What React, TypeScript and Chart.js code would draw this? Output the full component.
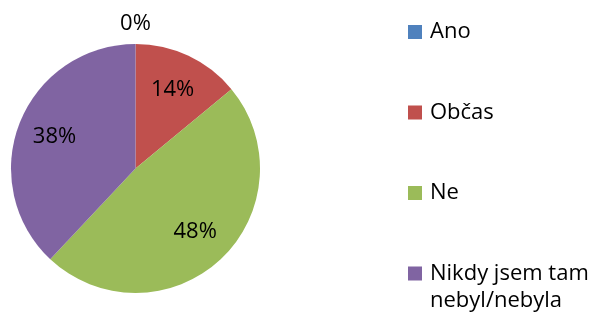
import React, { useEffect, useRef } from "react";
import { Chart, registerables } from "chart.js";

Chart.register(...registerables);

const categories = ["Ano", "Občas", "Ne", "Nikdy jsem tam nebyl/nebyla"];
const values = [0, 14, 48, 38];
const percentLabels = ["0%", "14%", "48%", "38%"];
const colors = ["#4F81BD", "#C0504D", "#9BBB59", "#8064A2"];

const FONT = '22px "Open Sans", sans-serif';

function wrapText(ctx: CanvasRenderingContext2D, text: string, maxW: number): string[] {
  const words = text.split(" ");
  const lines: string[] = [];
  let cur = "";
  for (const w of words) {
    const test = cur ? cur + " " + w : w;
    if (ctx.measureText(test).width > maxW && cur) {
      lines.push(cur);
      cur = w;
    } else {
      cur = test;
    }
  }
  if (cur) lines.push(cur);
  return lines;
}

const labelPlugin = {
  id: "sliceLabels",
  afterDatasetsDraw(chart: any) {
    const ctx: CanvasRenderingContext2D = chart.ctx;
    const meta = chart.getDatasetMeta(0);
    ctx.save();
    ctx.font = FONT;
    ctx.fillStyle = "#000";
    ctx.textAlign = "center";
    ctx.textBaseline = "middle";
    meta.data.forEach((arc: any, i: number) => {
      const p = arc.getProps(["x", "y", "startAngle", "endAngle", "outerRadius"], true);
      const mid = (p.startAngle + p.endAngle) / 2;
      const k = values[i] === 0 ? 1.16 : 0.7;
      const lx = p.x + Math.cos(mid) * p.outerRadius * k;
      const ly = p.y + Math.sin(mid) * p.outerRadius * k;
      ctx.fillText(percentLabels[i], lx, ly);
    });
    ctx.restore();
  },
};

const legendPlugin = {
  id: "sideLegend",
  afterDraw(chart: any) {
    const ctx: CanvasRenderingContext2D = chart.ctx;
    const boxX = 408;
    const textX = 430;
    const box = 14;
    const firstY = 32;
    const step = 80.5;
    const lineH = 27;
    ctx.save();
    ctx.font = FONT;
    ctx.textBaseline = "middle";
    ctx.textAlign = "left";
    categories.forEach((cat, i) => {
      const cy = firstY + i * step;
      ctx.fillStyle = colors[i];
      ctx.fillRect(boxX, cy - box / 2, box, box);
      ctx.fillStyle = "#000";
      const lines = wrapText(ctx, cat, chart.width - textX);
      lines.forEach((ln, j) => ctx.fillText(ln, textX, cy + j * lineH));
    });
    ctx.restore();
  },
};

export default function App() {
  const ref = useRef<HTMLCanvasElement | null>(null);
  useEffect(() => {
    if (!ref.current) return;
    const chart = new Chart(ref.current, {
      type: "pie",
      data: {
        labels: categories,
        datasets: [
          {
            data: values,
            backgroundColor: colors,
            borderWidth: 0,
          },
        ],
      },
      options: {
        animation: false,
        responsive: false,
        layout: { padding: { left: 11, top: 44, right: 338, bottom: 23 } },
        plugins: {
          legend: { display: false },
          tooltip: { enabled: false },
        },
      },
      plugins: [labelPlugin, legendPlugin],
    });
    return () => chart.destroy();
  }, []);
  return (
    <div style={{ position: "absolute", left: 0, top: 0, width: 598, height: 316, background: "#fff" }}>
      <canvas ref={ref} width={598} height={316} />
    </div>
  );
}
